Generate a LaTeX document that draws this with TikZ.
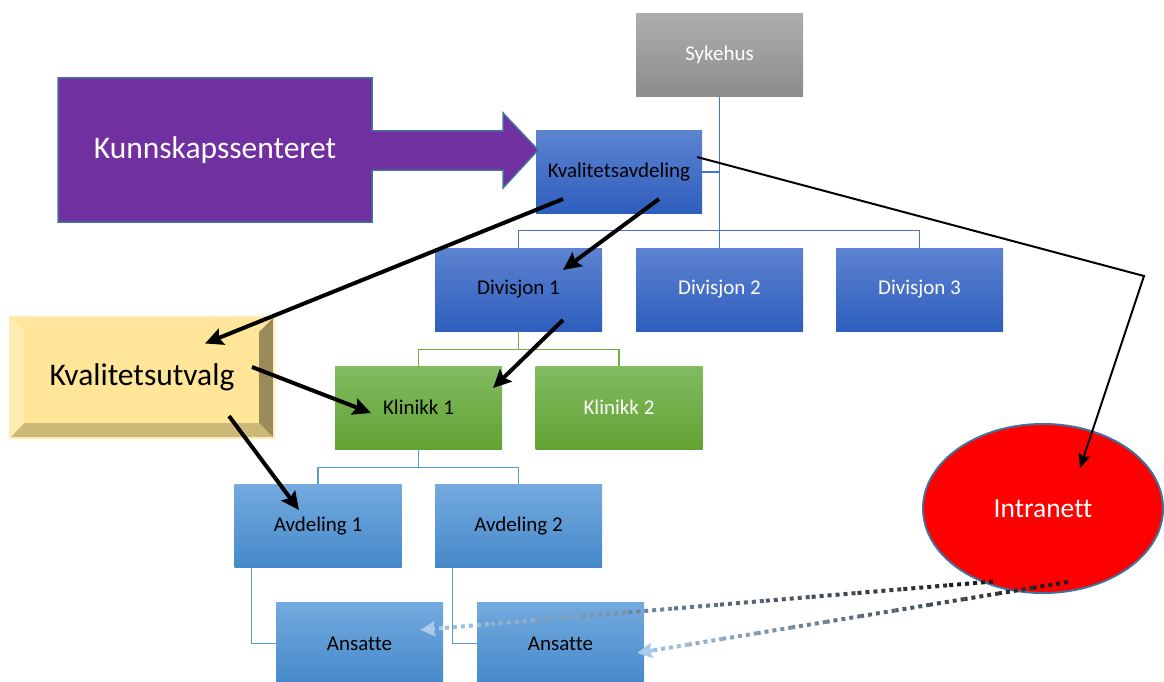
\documentclass[tikz,border=0pt]{standalone}
\usepackage{fontspec}
\setmainfont{Carlito}[Ligatures=NoCommon]
\usetikzlibrary{arrows.meta,calc,shapes.geometric}
\definecolor{sykT}{HTML}{AEAEAE}\definecolor{sykB}{HTML}{8C8C8C}
\definecolor{bluT}{HTML}{5D83D0}\definecolor{bluB}{HTML}{2E5EBE}
\definecolor{grnT}{HTML}{82BB62}\definecolor{grnB}{HTML}{62A232}
\definecolor{lbT}{HTML}{74AADF}\definecolor{lbB}{HTML}{4589CA}
\definecolor{lnB}{HTML}{4472C4}\definecolor{lnG}{HTML}{70AD47}\definecolor{lnL}{HTML}{5B9BD5}
\definecolor{purp}{HTML}{7030A0}\definecolor{edgec}{HTML}{41719C}
\definecolor{yelM}{HTML}{FFE597}\definecolor{yelTop}{HTML}{FFE69C}
\definecolor{yelLeft}{HTML}{FFEBB3}\definecolor{yelRight}{HTML}{9C8B5A}
\definecolor{yelBot}{HTML}{CCB978}\definecolor{yelRim}{HTML}{FFECB0}
\definecolor{dotD}{HTML}{1E1E1E}\definecolor{dotL}{HTML}{A9CBEA}
\begin{document}
\begin{tikzpicture}[x=1pt,y=-1pt,
  orgbox/.style={rectangle, minimum width=167pt, minimum height=83pt, inner sep=0pt,
    font=\fontsize{21}{25}\selectfont},
  graybox/.style={orgbox, top color=sykT, bottom color=sykB, text=white},
  bluebox/.style={orgbox, top color=bluT, bottom color=bluB},
  greenbox/.style={orgbox, top color=grnT, bottom color=grnB},
  lightbox/.style={orgbox, top color=lbT, bottom color=lbB},
  orgline/.style={line width=1.2pt},
  thickarr/.style={line width=4pt, -{Stealth[length=18pt,width=17pt,inset=3pt]}},
  thinarr/.style={line width=2pt, -{Stealth[length=14pt,width=12pt,inset=2pt]}},
  dotln/.style={line width=4pt, dash pattern=on 4pt off 4pt},
  dotarr/.style={line width=4pt, dash pattern=on 4pt off 4pt, draw=dotL,
    -{Stealth[length=15pt,width=15pt,inset=2pt,fill=dotL!70!white]}}
]
\useasboundingbox (0,0) rectangle (1164,682);

% org chart boxes
\node[graybox] (syk) at (719.5,55) {Sykehus};
\node[bluebox, minimum width=166pt, minimum height=82pt] (kva) at (619,172) {Kvalitetsavdeling};
\node[bluebox] (div1) at (518.5,289.5) {Divisjon 1};
\node[bluebox, text=white] (div2) at (719.5,289.5) {Divisjon 2};
\node[bluebox, text=white] (div3) at (919.5,289.5) {Divisjon 3};
\node[greenbox] (kl1) at (418.5,407.5) {Klinikk 1};
\node[greenbox, text=white] (kl2) at (619,407.5) {Klinikk 2};
\node[lightbox] (avd1) at (318,526) {Avdeling 1};
\node[lightbox] (avd2) at (518.5,526) {Avdeling 2};
\node[lightbox] (ans1) at (359.5,643.5) {Ansatte};
\node[lightbox] (ans2) at (560.5,643.5) {Ansatte};

% org chart connectors
\draw[orgline, lnB] (syk.south) -- (div2.north);
\draw[orgline, lnB] (kva.east) -- (kva.east -| syk.south);
\draw[orgline, lnB] (div1.north) -- ++(0,-17) -| (div3.north);
\draw[orgline, lnG] (div1.south) -- ++(0,18) coordinate (gj) (kl1.north) |- (gj) -| (kl2.north);
\draw[orgline, lnL] (kl1.south) -- ++(0,18) coordinate (bj) (avd1.north) |- (bj) -| (avd2.north);
\draw[orgline, lnL] ([xshift=17.5pt]avd1.south west) |- (ans1.west);
\draw[orgline, lnL] ([xshift=17.5pt]avd2.south west) |- (ans2.west);

% Kunnskapssenteret arrow shape
\draw[fill=purp, draw=edgec, line width=1.5pt]
  (58,78) -- (372,78) -- (372,131) -- (503,131) -- (503,113) -- (538,150)
  -- (503,188) -- (503,170) -- (372,170) -- (372,222) -- (58,222) -- cycle;
\node[text=white, font=\fontsize{31.5}{36}\selectfont] (kun) at (215,150) {Kunnskapssenteret};

% Kvalitetsutvalg bevel
\node[rectangle, minimum width=264pt, minimum height=121pt, inner sep=0pt, fill=yelM,
  font=\fontsize{31.5}{36}\selectfont] (kvu) at (142,377.5) {Kvalitetsutvalg};
\coordinate (i1) at ([shift={(14,15)}]kvu.north west);
\coordinate (i2) at ([shift={(-15,15)}]kvu.north east);
\coordinate (i3) at ([shift={(-15,-15)}]kvu.south east);
\coordinate (i4) at ([shift={(14,-15)}]kvu.south west);
\fill[yelTop] (kvu.north west) -- (kvu.north east) -- (i2) -- (i1) -- cycle;
\fill[yelRight] (kvu.north east) -- (kvu.south east) -- (i3) -- (i2) -- cycle;
\fill[yelBot] (kvu.south east) -- (kvu.south west) -- (i4) -- (i3) -- cycle;
\fill[yelLeft] (kvu.south west) -- (kvu.north west) -- (i1) -- (i4) -- cycle;
\draw[yelRim, line width=1.5pt] (kvu.north west) rectangle (kvu.south east);

% Intranett
\node[ellipse, minimum width=240pt, minimum height=169pt, inner sep=0pt, fill=red,
  draw=edgec, line width=2pt, text=white, font=\fontsize{27.5}{32}\selectfont]
  (int) at (1043,508.5) {Intranett};

% thick black arrows
\draw[thickarr] ([shift={(-56,27)}]kva.center) -- ([shift={(63,-34)}]kvu.center);
\draw[thickarr] ([shift={(40,27)}]kva.center) -- ([shift={(44.5,-19.5)}]div1.center);
\draw[thickarr] ([shift={(44.5,30.5)}]div1.center) -- ([shift={(74.5,-19.5)}]kl1.center);
\draw[thickarr] ([shift={(110,-10.5)}]kvu.center) -- ([shift={(-47.5,5.5)}]kl1.center);
\draw[thickarr] ([shift={(87,38.5)}]kvu.center) -- ([shift={(-19,-16)}]avd1.center);

% thin arrow to Intranett
\coordinate (bend) at (1144,276);
\draw[thinarr] ([shift={(78,-15)}]kva.center) -- (bend) -- ([shift={(37,-40.5)}]int.center);

% dotted gradient arrows
\coordinate (d1s) at ([shift={(-50,73)}]int.center);
\coordinate (d1e) at ([shift={(60.5,-13.5)}]ans1.center);
\coordinate (d2s) at ([shift={(25,73.5)}]int.center);
\coordinate (d2e) at ([shift={(76.5,9.5)}]ans2.center);
\foreach \s/\e in {d1s/d1e, d2s/d2e} {
  \foreach \i in {0,...,11} {
    \pgfmathtruncatemacro\p{100-\i*100/12}
    \draw[dotln, draw=dotD!\p!dotL] ($(\s)!\i/12.5!(\e)$) -- ($(\s)!\i/12.5+0.08!(\e)$);
  }
  \draw[dotarr] ($(\s)!0.96!(\e)$) -- (\e);
}
\end{tikzpicture}
\end{document}
